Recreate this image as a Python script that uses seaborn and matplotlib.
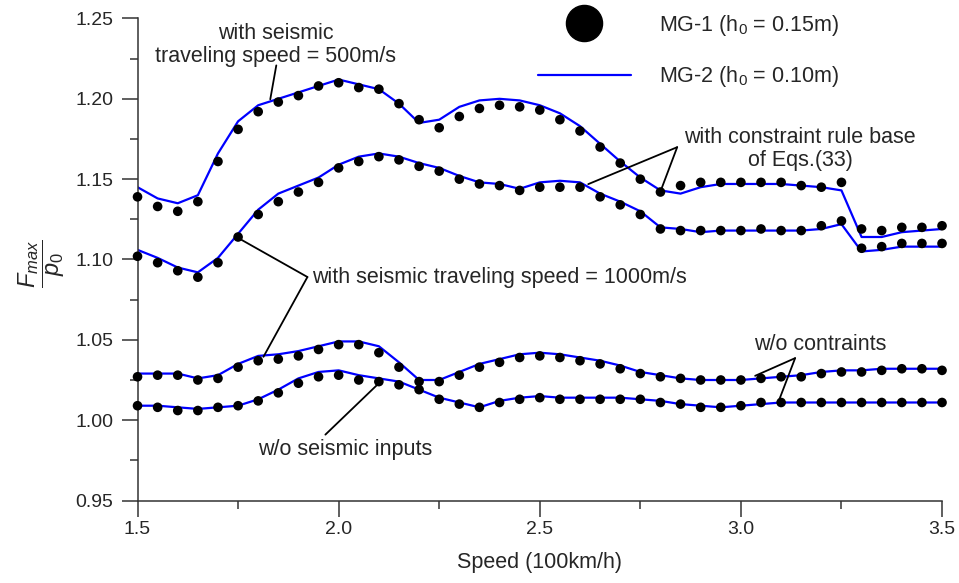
import pandas as pd
import matplotlib
matplotlib.use("Agg")
import matplotlib.pyplot as plt
from matplotlib.lines import Line2D
from matplotlib.ticker import MultipleLocator, FormatStrFormatter
import seaborn as sns

sns.set_style("ticks")
plt.rcParams['font.family'] = ['Liberation Sans', 'DejaVu Sans']
plt.rcParams['mathtext.fontset'] = 'custom'
plt.rcParams['mathtext.rm'] = 'Liberation Sans'
plt.rcParams['mathtext.it'] = 'Liberation Sans:italic'

# Speed (100km/h)
speed = [1.50, 1.55, 1.60, 1.65, 1.70, 1.75, 1.80, 1.85, 1.90, 1.95,
         2.00, 2.05, 2.10, 2.15, 2.20, 2.25, 2.30, 2.35, 2.40, 2.45,
         2.50, 2.55, 2.60, 2.65, 2.70, 2.75, 2.80, 2.85, 2.90, 2.95,
         3.00, 3.05, 3.10, 3.15, 3.20, 3.25, 3.30, 3.35, 3.40, 3.45, 3.50]

# MG-1 (dots)
mg1_500 = [1.139, 1.133, 1.130, 1.136, 1.161, 1.181, 1.192, 1.198, 1.202, 1.208,
           1.210, 1.207, 1.206, 1.197, 1.187, 1.182, 1.189, 1.194, 1.196, 1.195,
           1.193, 1.187, 1.180, 1.170, 1.160, 1.150, 1.142, 1.146, 1.148, 1.148,
           1.148, 1.148, 1.148, 1.146, 1.145, 1.148, 1.119, 1.118, 1.120, 1.120, 1.121]
mg1_1000 = [1.102, 1.098, 1.093, 1.089, 1.098, 1.114, 1.128, 1.136, 1.142, 1.148,
            1.157, 1.161, 1.164, 1.162, 1.158, 1.155, 1.150, 1.147, 1.146, 1.143,
            1.145, 1.145, 1.145, 1.139, 1.134, 1.128, 1.119, 1.118, 1.118, 1.118,
            1.118, 1.119, 1.118, 1.118, 1.121, 1.124, 1.107, 1.108, 1.110, 1.110, 1.110]
mg1_noc = [1.027, 1.028, 1.028, 1.025, 1.026, 1.033, 1.037, 1.038, 1.040, 1.044,
           1.047, 1.047, 1.042, 1.033, 1.024, 1.024, 1.028, 1.033, 1.036, 1.039,
           1.040, 1.039, 1.037, 1.035, 1.032, 1.029, 1.027, 1.026, 1.025, 1.025,
           1.025, 1.026, 1.027, 1.027, 1.029, 1.030, 1.030, 1.031, 1.032, 1.032, 1.031]
mg1_nos = [1.009, 1.008, 1.006, 1.006, 1.008, 1.009, 1.012, 1.017, 1.023, 1.027,
           1.028, 1.025, 1.024, 1.022, 1.019, 1.013, 1.010, 1.008, 1.011, 1.013,
           1.014, 1.013, 1.013, 1.013, 1.013, 1.013, 1.011, 1.010, 1.008, 1.008,
           1.009, 1.011, 1.011, 1.011, 1.011, 1.011, 1.011, 1.011, 1.011, 1.011, 1.011]

# MG-2 (lines)
mg2_500 = [1.145, 1.138, 1.135, 1.140, 1.166, 1.186, 1.196, 1.200, 1.204, 1.208,
           1.212, 1.209, 1.206, 1.197, 1.185, 1.187, 1.195, 1.199, 1.200, 1.199,
           1.196, 1.191, 1.183, 1.172, 1.161, 1.151, 1.143, 1.141, 1.145, 1.147,
           1.147, 1.147, 1.147, 1.146, 1.145, 1.143, 1.114, 1.114, 1.117, 1.118, 1.119]
mg2_1000 = [1.106, 1.101, 1.095, 1.092, 1.101, 1.116, 1.131, 1.141, 1.146, 1.151,
            1.159, 1.164, 1.166, 1.164, 1.160, 1.157, 1.152, 1.148, 1.147, 1.144,
            1.148, 1.149, 1.148, 1.141, 1.136, 1.130, 1.120, 1.119, 1.117, 1.118,
            1.118, 1.118, 1.118, 1.118, 1.119, 1.122, 1.105, 1.106, 1.108, 1.108, 1.108]
mg2_noc = [1.029, 1.029, 1.029, 1.026, 1.028, 1.035, 1.040, 1.041, 1.043, 1.046,
           1.049, 1.049, 1.046, 1.036, 1.025, 1.025, 1.030, 1.035, 1.038, 1.041,
           1.042, 1.041, 1.039, 1.037, 1.034, 1.030, 1.028, 1.026, 1.025, 1.025,
           1.025, 1.026, 1.027, 1.028, 1.030, 1.031, 1.031, 1.032, 1.032, 1.032, 1.032]
mg2_nos = [1.009, 1.009, 1.008, 1.007, 1.008, 1.009, 1.013, 1.019, 1.026, 1.030,
           1.031, 1.028, 1.026, 1.024, 1.019, 1.014, 1.011, 1.008, 1.012, 1.014,
           1.015, 1.014, 1.014, 1.014, 1.014, 1.013, 1.012, 1.010, 1.009, 1.008,
           1.009, 1.010, 1.011, 1.011, 1.011, 1.011, 1.011, 1.011, 1.011, 1.011, 1.011]

TXT = 15.5

fig = plt.figure(figsize=(9.59, 5.83), dpi=100)
ax = fig.add_axes([0.1434, 0.1415, 0.8389, 0.8268])

for ys in [mg2_500, mg2_1000, mg2_noc, mg2_nos]:
    sns.lineplot(x=speed, y=ys, color='#0000ff', linewidth=1.6, ax=ax, zorder=2)
for ys in [mg1_500, mg1_1000, mg1_noc, mg1_nos]:
    sns.scatterplot(x=speed, y=ys, color='black', s=48, edgecolor='none',
                    ax=ax, zorder=3, clip_on=False)

ax.set_xlim(1.5, 3.5)
ax.set_ylim(0.95, 1.25)
ax.xaxis.set_major_locator(MultipleLocator(0.5))
ax.xaxis.set_minor_locator(MultipleLocator(0.25))
ax.yaxis.set_major_locator(MultipleLocator(0.05))
ax.yaxis.set_minor_locator(MultipleLocator(0.025))
ax.xaxis.set_major_formatter(FormatStrFormatter('%.1f'))
ax.yaxis.set_major_formatter(FormatStrFormatter('%.2f'))
ax.tick_params(axis='both', which='major', length=11.5, width=1.1, color='#333333',
               labelsize=14, pad=6)
ax.tick_params(axis='x', which='major', pad=3)
ax.tick_params(axis='both', which='minor', length=6, width=1.1, color='#333333')
sns.despine(ax=ax)
for s in ['left', 'bottom']:
    ax.spines[s].set_color('#333333')
    ax.spines[s].set_linewidth(1.1)

ax.set_xlabel('Speed (100km/h)', fontsize=TXT, labelpad=10)
ax.set_ylabel(r'$\dfrac{F_{max}}{p_0}$', fontsize=17)
ax.yaxis.set_label_coords(-0.088, 0.49)

# annotations
line_kw = dict(arrowstyle='-', color='black', lw=1.3, shrinkA=0, shrinkB=0)
ax.text(1.843, 1.2335, 'with seismic\ntraveling speed = 500m/s', fontsize=TXT,
        ha='center', va='center', linespacing=1.15)
ax.annotate('', xy=(1.830, 1.1997), xytext=(1.845, 1.2208), arrowprops=line_kw)

ax.text(3.147, 1.1686, 'with constraint rule base\nof Eqs.(33)', fontsize=TXT,
        ha='center', va='center', linespacing=1.15)
for tgt in [(2.6205, 1.1469), (2.7994, 1.1419)]:
    ax.annotate('', xy=tgt, xytext=(2.8416, 1.1699), arrowprops=line_kw)

ax.text(1.935, 1.0885, 'with seismic traveling speed = 1000m/s', fontsize=TXT,
        ha='left', va='center')
for tgt in [(1.746, 1.114), (1.813, 1.0394)]:
    ax.annotate('', xy=tgt, xytext=(1.9224, 1.0891), arrowprops=line_kw)

ax.text(3.197, 1.0469, 'w/o contraints', fontsize=TXT, ha='center', va='center')
for tgt in [(3.0354, 1.0276), (3.0925, 1.0109)]:
    ax.annotate('', xy=tgt, xytext=(3.1348, 1.0386), arrowprops=line_kw)

ax.text(2.0168, 0.9817, 'w/o seismic inputs', fontsize=TXT, ha='center', va='center')
ax.annotate('', xy=(2.0988, 1.0227), xytext=(1.967, 0.991), arrowprops=line_kw)

# legend
handles = [Line2D([], [], ls='none', marker='o', ms=26, color='black'),
           Line2D([], [], color='#0000ff', lw=1.6)]
labels = [r'MG-1 (h$_0$ = 0.15m)', r'MG-2 (h$_0$ = 0.10m)']
ax.legend(handles, labels, loc='center left', bbox_to_anchor=(538 / 959, 1 - 51 / 583),
          bbox_transform=fig.transFigure, frameon=False, fontsize=TXT,
          handlelength=4.3, handletextpad=1.3, labelspacing=1.25,
          borderpad=0, borderaxespad=0, numpoints=1)

fig.savefig('out.png', dpi=100)
